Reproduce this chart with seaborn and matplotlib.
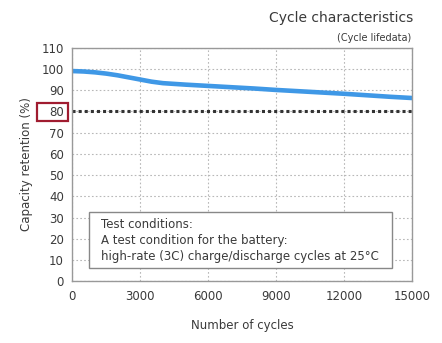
import matplotlib
matplotlib.use("Agg")
import matplotlib.pyplot as plt
import seaborn as sns
import pandas as pd
from matplotlib.patches import Rectangle

cycles = [0, 500, 1000, 1500, 2000, 2500, 3000, 3500, 4000, 5000, 6000, 7000, 8000, 9000, 10000, 11000, 12000, 13000, 14000, 15000]
retention = [99.0, 98.8, 98.4, 97.8, 97.0, 96.0, 95.0, 94.0, 93.3, 92.6, 92.0, 91.4, 90.8, 90.1, 89.5, 88.9, 88.3, 87.6, 86.9, 86.3]
threshold = 80
xticks = [0, 3000, 6000, 9000, 12000, 15000]
yticks = list(range(0, 111, 10))

sns.set_theme(style="white")
plt.rcParams['font.family'] = ['DejaVu Sans']
txt = '#3a3a3a'

fig = plt.figure(figsize=(4.42, 3.43), dpi=100)
ax = fig.add_axes([72.3/442, 1-281.3/343, 340/442, 233.6/343])

df = pd.DataFrame({"cycles": cycles, "retention": retention})
sns.lineplot(data=df, x="cycles", y="retention", ax=ax, color='#3f98e6', linewidth=3.3, solid_capstyle='butt')
ax.axhline(threshold, color='#333333', linewidth=2.2, linestyle=(0, (1, 1)))

ax.set_xlim(0, 15000)
ax.set_ylim(0, 110)
ax.set_xticks(xticks)
ax.set_yticks(yticks)
ax.tick_params(axis='both', labelsize=8.5, colors=txt, length=0, pad=6)
ax.grid(True, color='#b8b8b8', linestyle=(0, (1.5, 2)), linewidth=0.8)
for s in ax.spines.values():
    s.set_color('#999999')
    s.set_linewidth(1.0)
ax.set_xlabel("Number of cycles", fontsize=8.5, color=txt, labelpad=12)
ax.set_ylabel("Capacity retention (%)", fontsize=8.5, color=txt, labelpad=6)

# red box around 80 label
fig.patches.append(Rectangle((37/442, 1-121/343), 31/442, 18/343, transform=fig.transFigure,
                             fill=False, edgecolor='#a01c30', linewidth=1.6))

# test conditions box
ax.add_patch(Rectangle((740, 6.4), 13370, 26.4, facecolor='white', edgecolor='#888888', linewidth=1.0, zorder=5))
ax.text(1270, 29.8, "Test conditions:\nA test condition for the battery:\nhigh-rate (3C) charge/discharge cycles at 25°C",
        fontsize=8.5, color=txt, va='top', ha='left', linespacing=1.3, zorder=6)

fig.text(413/442, 1-18/343, "Cycle characteristics", fontsize=10, color=txt, ha='right', va='center')
fig.text(411/442, 1-38/343, "(Cycle lifedata)", fontsize=7, color=txt, ha='right', va='center')

fig.savefig("out.png", dpi=100)
